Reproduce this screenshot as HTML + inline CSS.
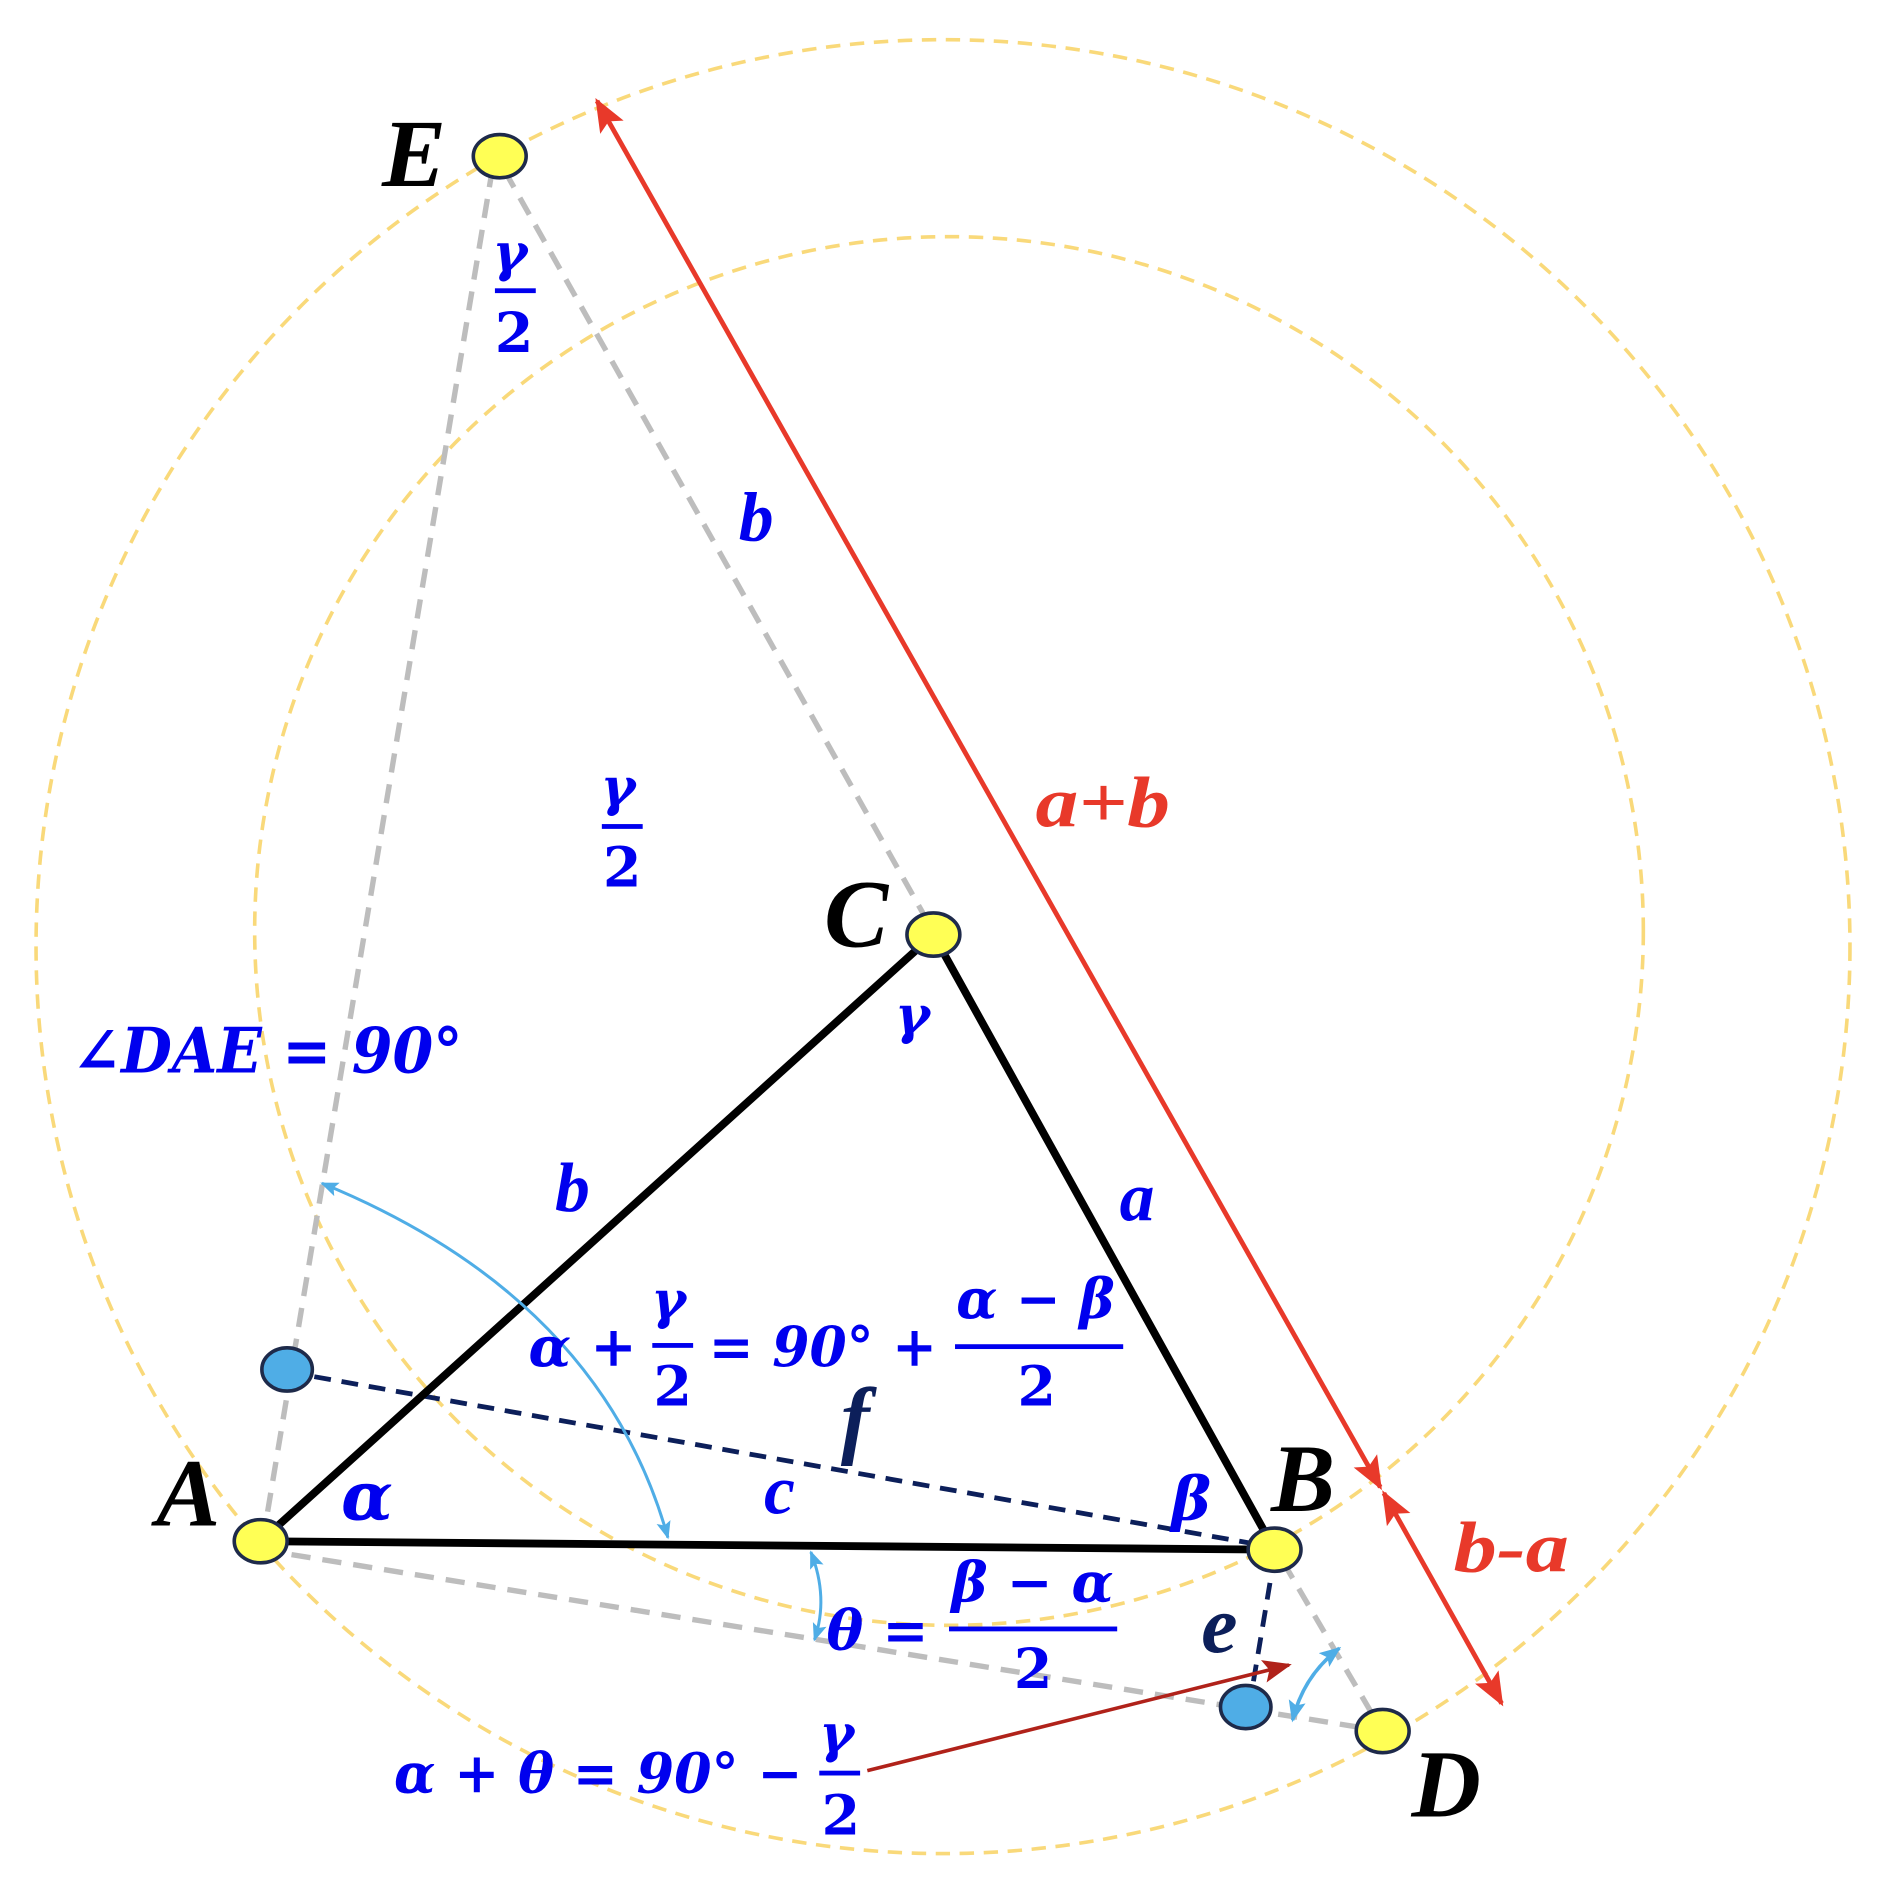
<!DOCTYPE html>
<html><head><meta charset="utf-8"><style>
html,body{margin:0;padding:0;background:#fff;}
svg{display:block;}
text{font-family:"Liberation Serif",serif;font-weight:bold;font-style:italic;}
.m text,.m{fill:#0000ee;}
.d{font-family:"DejaVu Serif",serif;}
.u{font-style:normal;}
</style></head><body>
<svg width="1880" height="1880" viewBox="0 0 1565 1565" xmlns="http://www.w3.org/2000/svg">
<defs>
<marker id="rh" viewBox="0 0 10 10" refX="9" refY="5" markerWidth="7" markerHeight="7" orient="auto-start-reverse"><path d="M0,1 L10,5 L0,9 L2,5 z" fill="#e8392a"/></marker>
<marker id="bh" viewBox="0 0 10 10" refX="9" refY="5" markerWidth="6" markerHeight="6" orient="auto-start-reverse"><path d="M0,1 L10,5 L0,9 L2,5 z" fill="#4fade6"/></marker>
<marker id="dh" viewBox="0 0 10 10" refX="9" refY="5" markerWidth="8" markerHeight="8" orient="auto"><path d="M0,1 L10,5 L0,9 L2,5 z" fill="#b0221a"/></marker>
</defs>
<circle cx="785" cy="788" r="755" fill="none" stroke="#f9d97a" stroke-width="3" stroke-dasharray="12,8"/>
<circle cx="790" cy="775" r="578" fill="none" stroke="#f9d97a" stroke-width="3" stroke-dasharray="12,8"/>
<g stroke="#bdbdbd" stroke-width="4.5" stroke-dasharray="16,10" fill="none">
<line x1="410" y1="140" x2="220" y2="1275"/>
<line x1="420" y1="142" x2="775" y2="772"/>
<line x1="1068" y1="1300" x2="1150" y2="1440"/>
<line x1="217" y1="1290" x2="1151" y2="1441"/>
</g>
<g stroke="#0c1f5a" stroke-width="4" stroke-dasharray="14,9" fill="none">
<line x1="239" y1="1142" x2="1060" y2="1288"/>
<line x1="1061" y1="1295" x2="1040" y2="1420"/>
</g>
<g stroke="#000" stroke-width="6.5" fill="none" stroke-linecap="round">
<line x1="217" y1="1283" x2="777" y2="778"/>
<line x1="777" y1="778" x2="1061" y2="1290"/>
<line x1="217" y1="1283" x2="1061" y2="1290"/>
</g>
<line x1="497" y1="84" x2="1149" y2="1238" stroke="#e8392a" stroke-width="4" marker-start="url(#rh)" marker-end="url(#rh)"/>
<line x1="1152" y1="1243" x2="1250" y2="1418" stroke="#e8392a" stroke-width="4" marker-start="url(#rh)" marker-end="url(#rh)"/>
<line x1="722" y1="1474" x2="1073" y2="1386" stroke="#b0221a" stroke-width="3" marker-end="url(#dh)"/>
<path d="M268,985 Q500,1080 556,1280" fill="none" stroke="#4fade6" stroke-width="2.5" marker-start="url(#bh)" marker-end="url(#bh)"/>
<path d="M675,1292 Q690,1330 678,1365" fill="none" stroke="#4fade6" stroke-width="2.5" marker-start="url(#bh)" marker-end="url(#bh)"/>
<path d="M1076,1432 Q1085,1395 1115,1372" fill="none" stroke="#4fade6" stroke-width="3" marker-start="url(#bh)" marker-end="url(#bh)"/>
<g stroke="#1e2a4a" stroke-width="3">
<ellipse cx="416" cy="130" rx="22" ry="18" fill="#ffff55"/>
<ellipse cx="777" cy="778" rx="22" ry="18" fill="#ffff55"/>
<ellipse cx="217" cy="1283" rx="22" ry="18" fill="#ffff55"/>
<ellipse cx="1061" cy="1290" rx="22" ry="18" fill="#ffff55"/>
<ellipse cx="1151" cy="1441" rx="22" ry="18" fill="#ffff55"/>
<ellipse cx="239" cy="1140" rx="21" ry="18" fill="#4fade6"/>
<ellipse cx="1037" cy="1421" rx="21" ry="18" fill="#4fade6"/>
</g>
<g font-size="80" fill="#000">
<text x="318" y="155">E</text>
<text x="686" y="788">C</text>
<text x="130" y="1270">A</text>
<text x="1058" y="1258">B</text>
<text x="1175" y="1512">D</text>
</g>
<g class="m">
<text x="615" y="450" font-size="58">b</text>
<text x="462" y="1008" font-size="58">b</text>
<text x="932" y="1016" font-size="58">a</text>
<text x="636" y="1260" font-size="58">c</text>
<text x="284" y="1265" font-size="56" class="d">α</text>
<text x="975" y="1265" font-size="50" class="d">β</text>
<text x="745" y="860" font-size="44" class="d">γ</text>
<text x="410" y="225" font-size="44" class="d">γ</text>
<rect x="412" y="240" width="34" height="4"/>
<text x="412" y="293" font-size="46" class="d u">2</text>
<text x="500" y="670" font-size="44" class="d">γ</text>
<rect x="501" y="686" width="34" height="4"/>
<text x="502" y="738" font-size="46" class="d u">2</text>
<text x="60" y="893" font-size="52" class="d" textLength="325" lengthAdjust="spacingAndGlyphs">∠DAE = 90°</text>
<text x="440" y="1137" font-size="46" class="d" textLength="90" lengthAdjust="spacingAndGlyphs">α +</text>
<text x="542" y="1097" font-size="44" class="d">γ</text>
<rect x="543" y="1118" width="34" height="4"/>
<text x="544" y="1170" font-size="46" class="d u">2</text>
<text x="590" y="1137" font-size="46" class="d" textLength="190" lengthAdjust="spacingAndGlyphs">= 90° +</text>
<text x="796" y="1097" font-size="46" class="d" textLength="132" lengthAdjust="spacingAndGlyphs">α − β</text>
<rect x="795" y="1119" width="140" height="4"/>
<text x="847" y="1170" font-size="46" class="d u">2</text>
<text x="688" y="1373" font-size="46" class="d" textLength="85" lengthAdjust="spacingAndGlyphs">θ =</text>
<text x="792" y="1333" font-size="46" class="d" textLength="135" lengthAdjust="spacingAndGlyphs">β − α</text>
<rect x="790" y="1354" width="140" height="4"/>
<text x="844" y="1405" font-size="46" class="d u">2</text>
<text x="328" y="1492" font-size="46" class="d" textLength="340" lengthAdjust="spacingAndGlyphs">α + θ = 90° −</text>
<text x="682" y="1458" font-size="44" class="d">γ</text>
<rect x="682" y="1474" width="34" height="4"/>
<text x="684" y="1527" font-size="46" class="d u">2</text>
</g>
<text x="700" y="1205" font-size="72" fill="#0c1f5a">f</text>
<text x="1000" y="1375" font-size="68" fill="#0c1f5a">e</text>
<g fill="#e8392a" font-size="60">
<text x="862" y="688" textLength="112" lengthAdjust="spacingAndGlyphs">a+b</text>
<text x="1210" y="1308" textLength="96" lengthAdjust="spacingAndGlyphs">b-a</text>
</g>
</svg>
</body></html>
